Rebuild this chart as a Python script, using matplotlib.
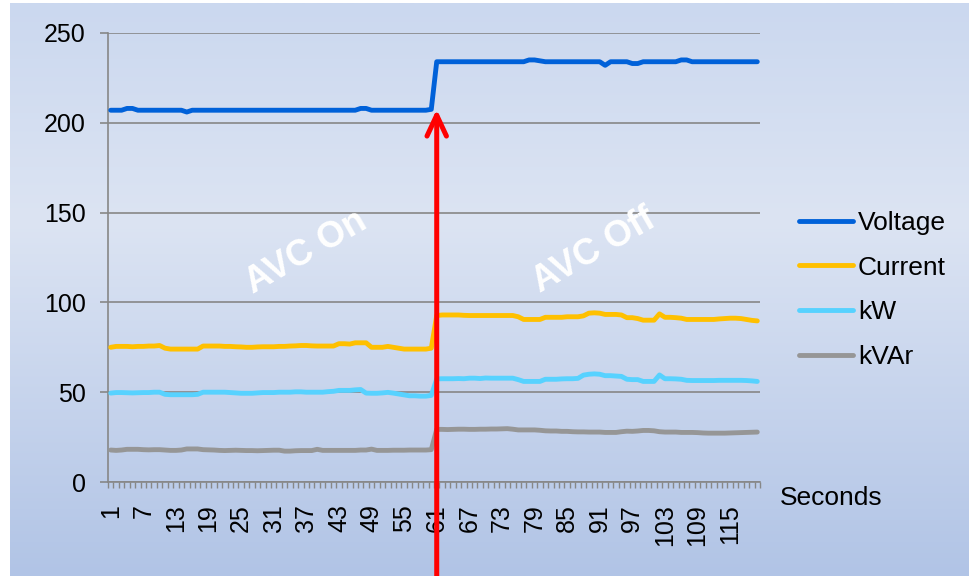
import matplotlib.pyplot as plt
import numpy as np
from matplotlib.colors import LinearSegmentedColormap

plt.rcParams['font.family'] = ['Liberation Sans', 'DejaVu Sans']

seconds = np.arange(1, 121)

voltage = [207, 207, 207, 208, 208, 207, 207, 207, 207, 207,
           207, 207, 207, 207, 206, 207, 207, 207, 207, 207,
           207, 207, 207, 207, 207, 207, 207, 207, 207, 207,
           207, 207, 207, 207, 207, 207, 207, 207, 207, 207,
           207, 207, 207, 207, 207, 207, 208, 208, 207, 207,
           207, 207, 207, 207, 207, 207, 207, 207, 207, 207.5,
           234, 234, 234, 234, 234, 234, 234, 234, 234, 234,
           234, 234, 234, 234, 234, 234, 234, 235, 235, 234.5,
           234, 234, 234, 234, 234, 234, 234, 234, 234, 234,
           234, 232, 234, 234, 234, 234, 233, 233, 234, 234,
           234, 234, 234, 234, 234, 235, 235, 234, 234, 234,
           234, 234, 234, 234, 234, 234, 234, 234, 234, 234]

current = [75, 75.5, 75.5, 75.5, 75.3, 75.5, 75.5, 75.7, 75.7, 76,
           74.5, 74, 74, 74, 74, 74, 74, 75.7, 75.7, 75.7,
           75.7, 75.5, 75.5, 75.3, 75.2, 75, 75, 75.2, 75.3, 75.3,
           75.3, 75.5, 75.5, 75.7, 75.8, 76, 76, 75.8, 75.7, 75.7,
           75.7, 75.7, 77, 77, 76.8, 77.5, 77.5, 77.5, 75, 75,
           75, 75.5, 75, 74.5, 74, 74, 74, 74, 74, 74.5,
           92.7, 93, 93, 93, 93, 92.8, 92.7, 92.7, 92.7, 92.7,
           92.7, 92.7, 92.7, 92.7, 92.7, 92, 90.5, 90.5, 90.5, 90.5,
           91.7, 91.7, 91.7, 91.7, 92, 92, 92, 92.5, 94, 94.2,
           94, 93.3, 93.3, 93.3, 93, 91.5, 91.5, 91, 90.1, 90.1,
           90.1, 93.6, 91.7, 91.7, 91.5, 91.2, 90.5, 90.5, 90.5, 90.5,
           90.5, 90.5, 90.8, 91, 91.2, 91.2, 91, 90.5, 90, 89.7]

kw = [49.5, 49.8, 49.8, 49.7, 49.6, 49.7, 49.8, 49.8, 50, 50,
      48.8, 48.6, 48.6, 48.6, 48.6, 48.6, 48.8, 50, 50, 50,
      50, 50, 49.8, 49.6, 49.4, 49.4, 49.4, 49.6, 49.8, 49.8,
      49.8, 50, 50, 50, 50.2, 50.2, 50, 50, 50, 50,
      50.3, 50.5, 51, 51, 51, 51.3, 51.5, 49.5, 49.4, 49.4,
      49.6, 49.9, 49.5, 49, 48.5, 48, 48, 47.8, 47.8, 48.2,
      57.4, 57.5, 57.5, 57.5, 57.6, 57.5, 57.8, 57.8, 57.6, 57.9,
      57.8, 57.8, 57.8, 57.8, 57.8, 57, 56, 56, 56, 56,
      57.2, 57.2, 57.2, 57.4, 57.5, 57.5, 57.7, 59.5, 60, 60.2,
      60, 59.2, 59.2, 59, 58.8, 57.2, 57, 57, 56, 56,
      56, 59.6, 57.5, 57.5, 57.4, 57.2, 56.6, 56.5, 56.5, 56.5,
      56.5, 56.5, 56.6, 56.6, 56.6, 56.6, 56.6, 56.5, 56.3, 56]

kvar = [17.8, 17.6, 17.8, 18.2, 18.2, 18.2, 18, 17.9, 18, 18,
        17.8, 17.6, 17.6, 17.8, 18.4, 18.4, 18.4, 18, 17.9, 17.8,
        17.6, 17.5, 17.6, 17.7, 17.6, 17.5, 17.5, 17.4, 17.5, 17.6,
        17.7, 17.7, 17.2, 17.2, 17.4, 17.5, 17.5, 17.5, 18.2, 17.6,
        17.6, 17.6, 17.6, 17.6, 17.6, 17.6, 17.8, 17.8, 18.3, 17.6,
        17.6, 17.6, 17.7, 17.7, 17.7, 17.8, 17.8, 17.8, 17.8, 18,
        29.3, 29.3, 29.2, 29.3, 29.4, 29.4, 29.3, 29.3, 29.4, 29.4,
        29.5, 29.5, 29.6, 29.7, 29.4, 29, 29, 29, 29, 28.8,
        28.5, 28.4, 28.4, 28.2, 28.2, 28, 27.9, 27.9, 27.8, 27.8,
        27.8, 27.6, 27.6, 27.6, 28, 28.3, 28.2, 28.4, 28.7, 28.7,
        28.5, 28, 27.8, 27.8, 27.8, 27.6, 27.6, 27.6, 27.5, 27.3,
        27.2, 27.2, 27.2, 27.2, 27.3, 27.4, 27.5, 27.6, 27.7, 27.8]

switch_second = 61
x_labels = np.arange(1, 121, 6)

fig = plt.figure(figsize=(9.69, 5.76), dpi=100)
fig.patch.set_facecolor('white')

# gradient background
bg = fig.add_axes([10/969, 0, 1 - 10/969, 1 - 3/576], zorder=-10)
cmap = LinearSegmentedColormap.from_list('bg', [(0, '#b1c4e6'), (0.62, '#dce4f3'), (1, '#cbd8ef')])
bg.imshow(np.linspace(0, 1, 256).reshape(-1, 1), aspect='auto', cmap=cmap, origin='lower', extent=[0, 1, 0, 1])
bg.axis('off')

ax = fig.add_axes([108/969, 1 - 482/576, (760 - 108)/969, (482 - 33)/576])
ax.set_facecolor('none')

ax.plot(seconds, voltage, color='#0061d9', lw=3.5, label='Voltage', solid_capstyle='round', zorder=3)
ax.plot(seconds, current, color='#ffc000', lw=3.5, label='Current', solid_capstyle='round', zorder=3)
ax.plot(seconds, kw, color='#57d2ff', lw=3.5, label='kW', solid_capstyle='round', zorder=3)
ax.plot(seconds, kvar, color='#969696', lw=3.5, label='kVAr', solid_capstyle='round', zorder=3)

ax.set_xlim(0.5, 120.5)
ax.set_ylim(0, 250)
ax.set_yticks([0, 50, 100, 150, 200, 250])
ax.yaxis.grid(True, color='#878787', lw=1.2)
ax.set_axisbelow(True)
ax.tick_params(axis='y', length=6, color='#878787', width=1.2, labelsize=18, pad=10)

ax.set_xticks(x_labels)
ax.set_xticklabels([str(v) for v in x_labels], rotation=90, fontsize=18)
ax.set_xticks(np.arange(0.5, 121, 1), minor=True)
ax.tick_params(axis='x', which='major', length=0, pad=16)
ax.tick_params(axis='x', which='minor', length=4, color='#878787', width=1)

for s in ['top', 'right']:
    ax.spines[s].set_visible(False)
for s in ['left', 'bottom']:
    ax.spines[s].set_color('#878787')
    ax.spines[s].set_linewidth(1.2)

ax.text(37, 128, 'AVC On', rotation=30, color='white', fontsize=26, fontweight='bold',
        ha='center', va='center', zorder=2)
ax.text(90, 129, 'AVC Off', rotation=30, color='white', fontsize=26, fontweight='bold',
        ha='center', va='center', zorder=2)

ax.annotate('', xy=(switch_second, voltage[switch_second - 2]), xycoords='data',
            xytext=(switch_second, 0), textcoords=('data', 'figure fraction'),
            arrowprops=dict(arrowstyle='->,head_length=0.75,head_width=0.35', color='#ff0000',
                            lw=3.6, shrinkA=0, shrinkB=0, mutation_scale=20),
            annotation_clip=False, zorder=5)

fig.legend(loc='center left', bbox_to_anchor=(799/969, 1 - 290/576), frameon=False,
           fontsize=19, handlelength=2.05, handletextpad=0.19, labelspacing=0.78,
           borderpad=0, borderaxespad=0)

fig.text(780/969, 1 - 498/576, 'Seconds', fontsize=19, va='center')

plt.savefig('out.png', dpi=100)
